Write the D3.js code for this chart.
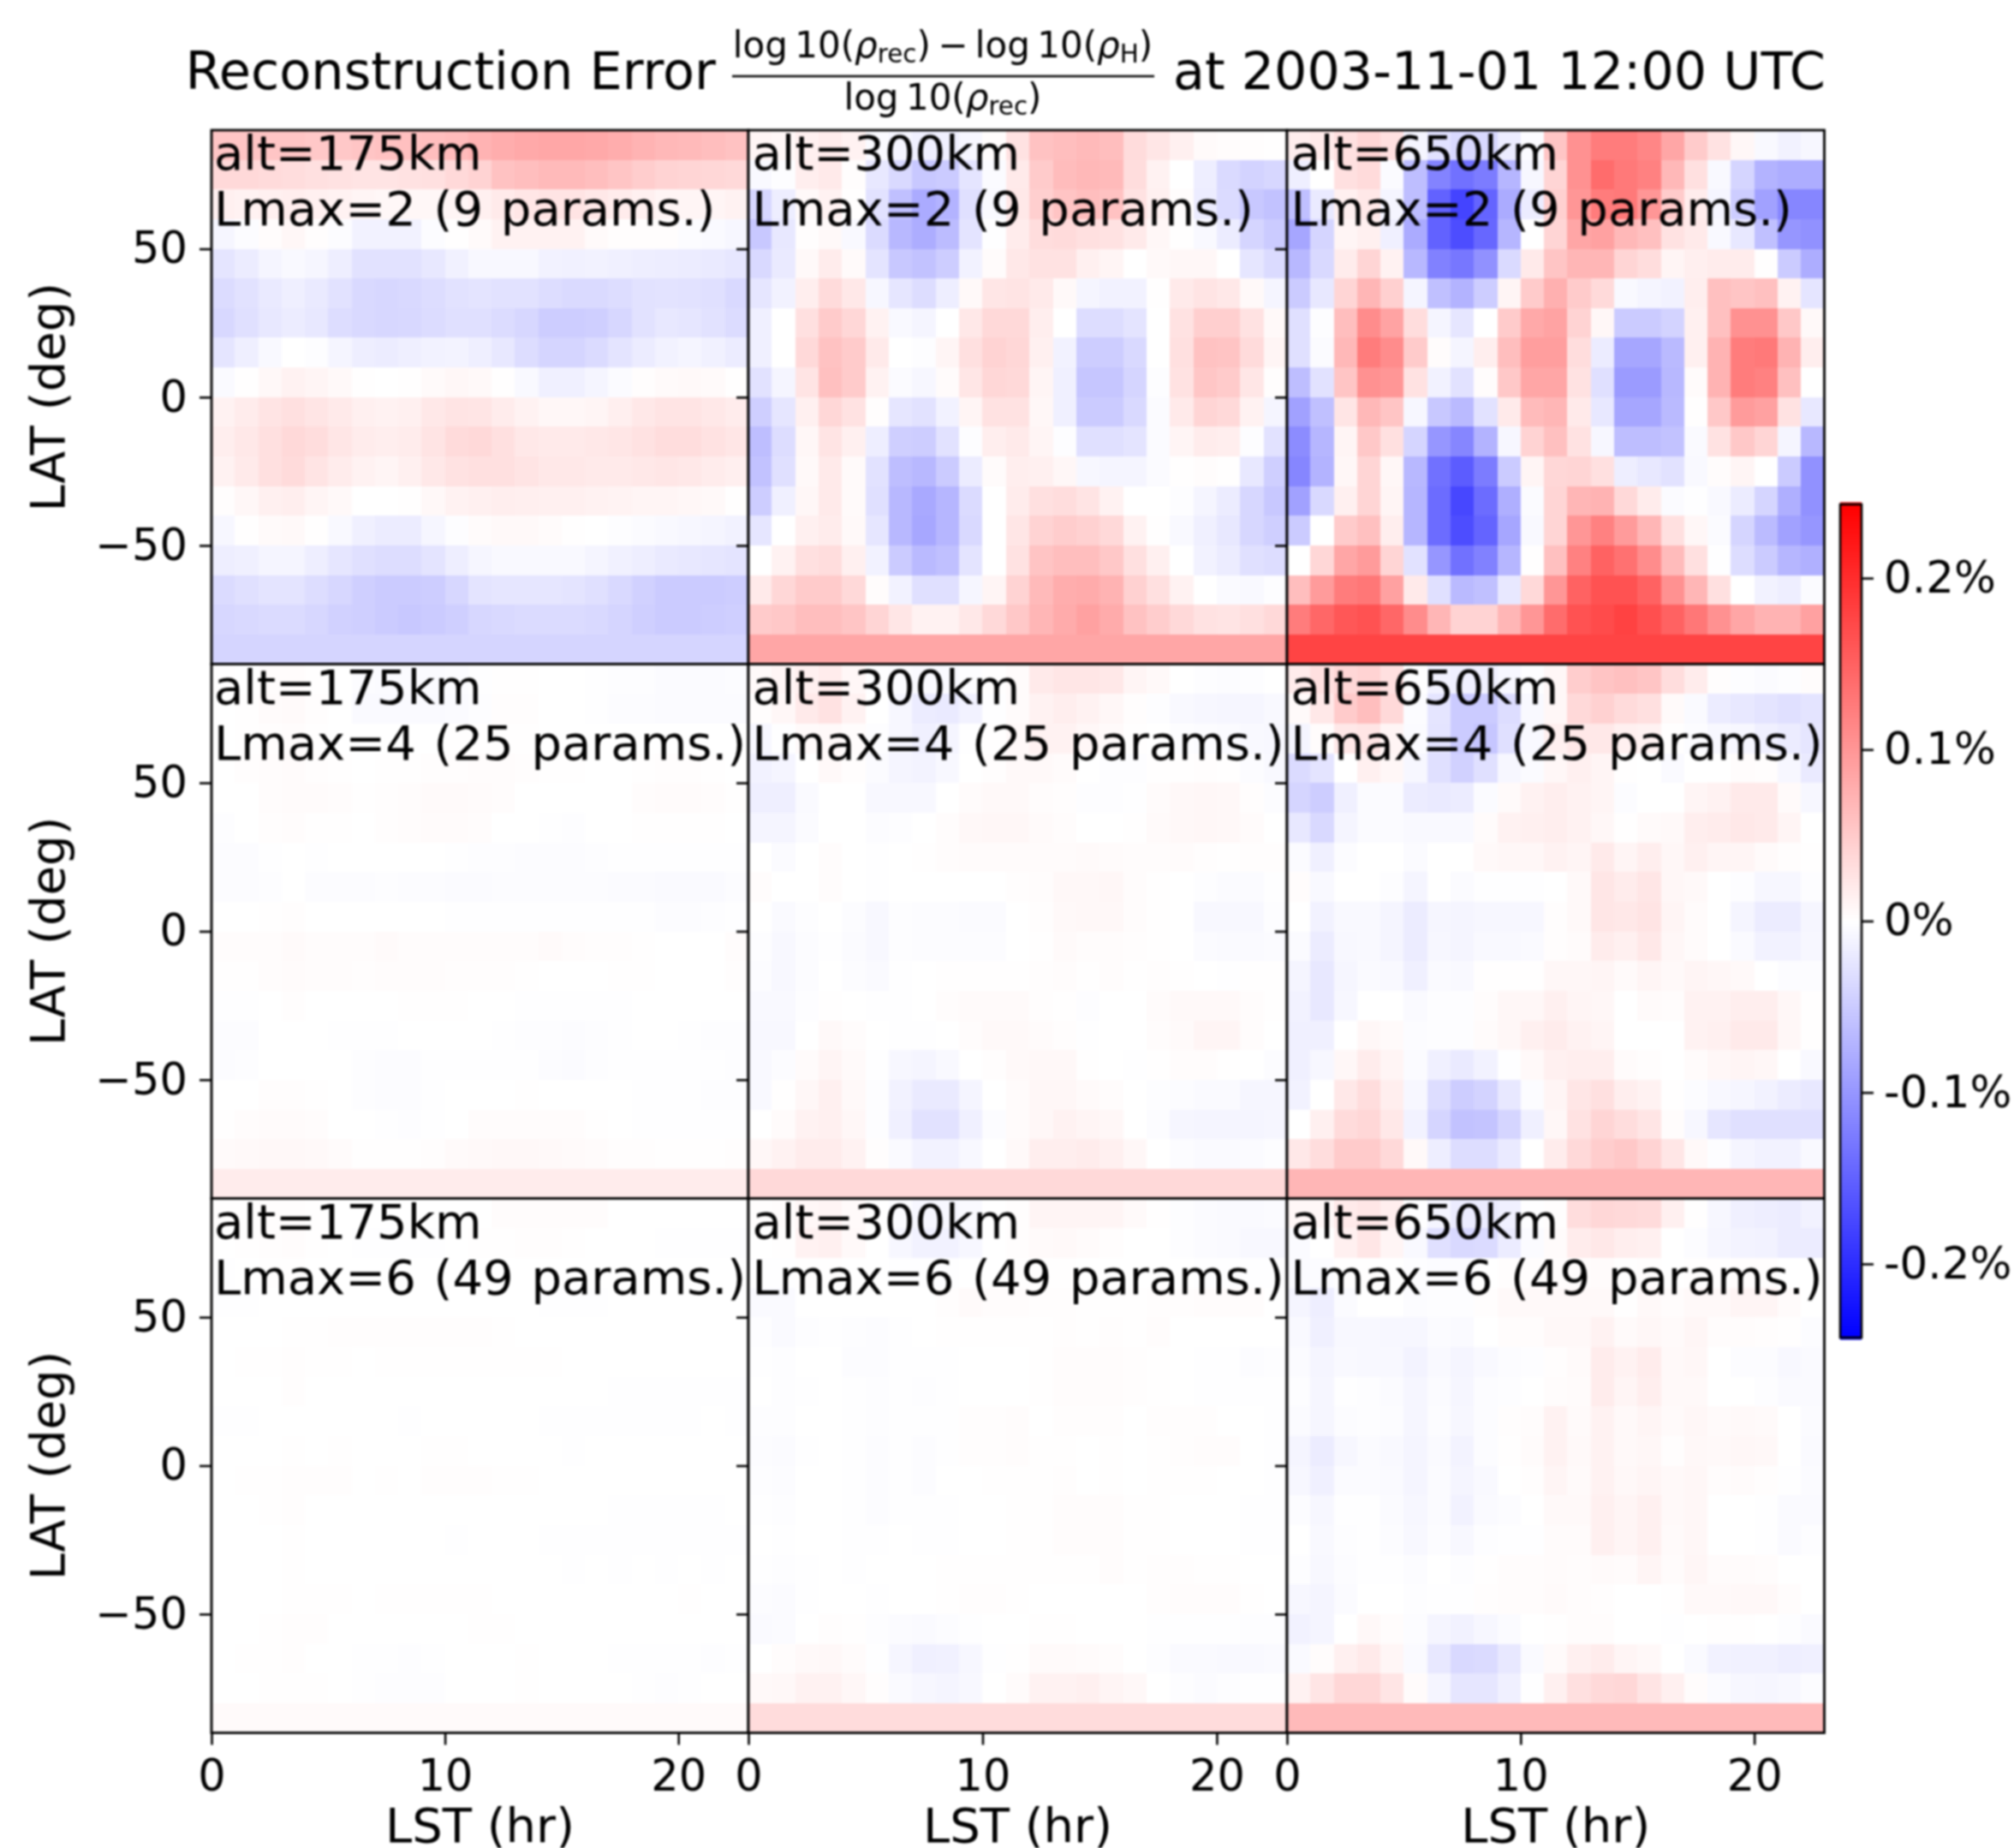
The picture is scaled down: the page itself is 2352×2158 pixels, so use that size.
<!DOCTYPE html>
<html>
<head>
<meta charset="utf-8">
<script src="https://cdn.jsdelivr.net/npm/d3@7"></script>
<style>
  body { margin: 0; background: #fff; }
  svg { display: block; font-family: "DejaVu Sans"; filter: blur(1px); }
</style>
</head>
<body>
<script>
// reconstruction error, unit is 0.001 %
// each row is one 10 deg latitude band, north first, 23 LST columns
const err175L2 = [
  [55,55,55,55,52,52,55,58,60,62,65,72,78,82,84,84,82,78,72,68,66,62,58],
  [36,36,34,32,30,28,26,26,28,30,36,42,58,62,66,66,62,55,48,42,40,38,36],
  [14,12,14,16,14,12,10,8,8,8,10,14,20,24,26,26,22,18,14,10,10,10,12],
  [-9,-3,3,8,2,-3,-12,-12,-12,-3,1,5,12,12,12,12,5,2,2,2,-3,-5,-8],
  [-25,-18,-10,-6,-9,-16,-28,-28,-28,-22,-13,-7,-7,-7,-12,-13,-12,-14,-16,-17,-18,-20,-23],
  [-33,-28,-20,-15,-20,-28,-36,-38,-36,-32,-28,-26,-28,-28,-32,-35,-35,-32,-28,-27,-28,-30,-36],
  [-37,-30,-22,-18,-22,-32,-36,-38,-37,-33,-30,-30,-33,-38,-48,-48,-46,-38,-28,-22,-24,-28,-33],
  [-25,-15,-6,0,-2,-10,-16,-18,-15,-12,-11,-15,-22,-32,-40,-40,-34,-26,-18,-12,-10,-13,-18],
  [-5,1,7,12,10,6,1,0,1,5,8,6,1,-6,-14,-14,-10,-4,2,5,6,5,1],
  [12,18,26,30,25,20,14,12,14,22,26,25,18,12,8,8,10,15,22,26,26,22,18],
  [16,22,30,36,32,24,18,16,18,26,34,36,30,22,20,20,22,24,28,32,32,28,24],
  [12,20,30,34,26,18,12,10,14,22,28,30,30,26,22,22,20,20,22,24,22,18,15],
  [2,8,14,16,10,6,0,0,1,7,12,14,16,15,14,14,12,11,10,10,8,6,1],
  [-8,1,5,6,1,-6,-14,-18,-18,-9,-2,4,6,6,4,1,0,-2,-4,-6,-8,-10,-12],
  [-16,-14,-10,-10,-16,-24,-30,-32,-32,-26,-16,-9,-6,-6,-6,-6,-10,-13,-16,-20,-22,-24,-26],
  [-34,-30,-26,-26,-32,-38,-46,-50,-50,-48,-38,-26,-24,-24,-24,-26,-30,-36,-44,-50,-50,-50,-48],
  [-38,-36,-34,-34,-38,-44,-46,-50,-52,-50,-46,-38,-36,-34,-34,-34,-36,-40,-46,-50,-50,-48,-46],
  [-40,-40,-40,-40,-40,-40,-40,-40,-40,-40,-40,-40,-40,-40,-40,-40,-40,-40,-40,-40,-40,-40,-40]
];
const err300L2 = [
  [10,8,14,18,12,-5,-10,-14,-14,-8,3,28,58,62,66,62,33,24,14,5,3,2,1],
  [-6,-2,16,20,2,-22,-36,-52,-50,-25,-4,20,50,64,68,66,32,12,0,-16,-35,-42,-38],
  [-38,-16,6,12,1,-28,-60,-80,-72,-30,-6,22,46,56,62,58,28,14,3,-18,-34,-52,-58],
  [-52,-22,2,6,-6,-34,-68,-78,-64,-26,-1,18,32,34,30,28,20,8,1,-6,-18,-40,-50],
  [-36,-20,6,18,5,-26,-52,-58,-48,-12,4,22,28,28,14,10,0,6,8,8,0,-24,-34],
  [-24,-12,16,34,22,-8,-24,-32,-16,6,24,26,20,6,-10,-12,-12,1,20,26,22,6,-10],
  [-14,0,30,50,38,12,-6,-10,0,22,36,36,16,0,-32,-32,-26,0,28,46,46,28,6],
  [-14,0,36,58,50,20,0,-2,10,30,42,38,14,-12,-48,-48,-36,0,30,58,56,34,10],
  [-28,-10,26,60,50,12,-4,-8,4,24,38,36,10,-14,-54,-54,-40,-2,28,54,50,24,2],
  [-46,-24,14,38,28,2,-24,-28,-12,10,28,28,8,-14,-50,-50,-36,-4,20,40,36,12,-10],
  [-62,-32,8,26,14,-16,-46,-48,-28,-2,16,20,10,-2,-30,-30,-26,-4,10,18,16,-2,-28],
  [-58,-30,6,20,5,-28,-62,-68,-50,-18,4,16,14,8,-8,-10,-10,-4,1,3,1,-22,-46],
  [-48,-14,8,20,5,-30,-68,-82,-70,-34,0,18,30,32,26,12,0,0,-2,-10,-18,-38,-52],
  [-24,0,14,18,6,-24,-68,-84,-70,-36,0,24,42,48,44,36,12,1,-6,-14,-22,-38,-46],
  [0,12,30,32,14,-12,-50,-66,-60,-26,0,28,56,62,62,52,30,14,0,-12,-18,-30,-32],
  [20,38,50,50,36,3,-12,-30,-30,-9,10,42,66,78,80,72,44,30,12,0,-5,-6,-2],
  [50,52,62,62,55,40,24,12,12,22,36,52,70,80,90,80,58,48,36,28,26,30,36],
  [85,85,85,85,85,85,85,85,85,85,85,85,85,85,85,85,85,85,85,85,85,85,85]
];
const err650L2 = [
  [16,20,30,40,30,-10,-28,-36,-36,-18,-4,55,105,125,125,115,85,50,28,8,-6,-12,-8],
  [-15,0,30,34,-4,-62,-118,-135,-125,-70,-8,40,105,140,128,120,68,30,-6,-40,-72,-78,-78],
  [-60,-20,14,22,-10,-62,-150,-178,-148,-80,-18,45,100,125,128,100,50,18,-10,-48,-90,-115,-115],
  [-85,-40,10,14,-14,-80,-150,-170,-145,-70,0,40,85,90,68,60,28,20,-6,-22,-60,-100,-105],
  [-68,-36,18,40,12,-68,-120,-130,-105,-35,20,55,70,70,40,32,10,15,18,18,1,-50,-78],
  [-50,-22,40,70,45,-10,-60,-72,-48,10,50,75,50,35,-6,-10,-12,16,60,55,60,12,-25],
  [-30,-2,62,110,88,32,-10,-24,0,50,82,88,42,8,-50,-50,-42,14,60,105,105,52,6],
  [-30,-4,68,125,110,50,3,-10,16,62,92,92,32,-18,-85,-85,-66,14,72,125,128,72,16],
  [-62,-28,55,105,100,28,-12,-28,3,52,85,85,28,-30,-95,-95,-68,4,72,125,120,60,0],
  [-90,-60,25,68,55,-8,-52,-66,-28,20,65,70,20,-22,-85,-85,-66,1,52,95,90,28,-22],
  [-110,-70,10,52,30,-40,-100,-115,-72,-8,42,60,28,-8,-62,-62,-58,-5,28,52,40,-10,-68],
  [-115,-72,8,40,8,-68,-135,-155,-125,-50,10,38,40,30,-16,-22,-28,-6,3,10,0,-50,-105],
  [-90,-36,14,40,10,-70,-140,-175,-140,-76,-4,40,70,72,36,18,-4,-1,-6,-18,-40,-76,-105],
  [-50,0,50,60,16,-70,-140,-170,-148,-85,-6,40,100,120,95,70,30,8,-4,-40,-65,-90,-100],
  [0,38,85,95,40,-28,-100,-135,-120,-70,1,60,120,150,135,110,65,30,-1,-32,-50,-70,-75],
  [62,95,125,130,90,20,-30,-66,-60,-22,36,100,150,165,165,150,105,70,30,0,-12,-16,-4],
  [125,145,160,165,145,110,70,42,42,70,100,140,165,172,180,168,150,130,105,85,72,72,90],
  [178,178,178,178,178,178,178,178,178,178,178,178,178,178,178,178,178,178,178,178,178,178,178]
];
const err175L4 = [
  [1,0,3,3,1,0,-3,-4,-4,-4,-3,-1,1,1,0,0,-1,-2,-2,-4,-4,-4,-3],
  [0,1,4,5,2,0,-5,-5,-5,-5,-4,-2,2,2,0,0,-1,-3,-3,-4,-4,-4,-4],
  [0,1,2,3,1,0,0,0,0,0,1,1,1,1,0,0,0,0,0,0,0,0,0],
  [0,2,3,4,2,1,0,1,1,2,2,3,3,2,1,1,0,0,1,2,2,1,0],
  [0,0,3,4,4,3,1,2,3,5,5,4,3,0,0,0,0,0,3,4,4,3,1],
  [-2,0,2,3,1,1,0,2,3,4,4,3,0,0,-1,-2,0,0,1,1,1,1,0],
  [-3,-3,-1,0,-1,0,0,0,0,0,-1,-2,-2,-3,-3,-3,-2,-1,-1,-1,-1,-1,-1],
  [-3,-3,-2,0,-3,-3,-3,-2,-3,-3,-4,-4,-3,-3,-3,-3,-3,-4,-4,-5,-5,-5,-3],
  [0,0,1,2,0,0,0,0,0,0,-1,-1,-1,-1,-1,-1,-1,-1,-1,-3,-3,-2,-1],
  [3,3,3,5,3,3,3,5,3,3,3,3,3,3,5,3,2,2,1,0,0,0,3],
  [1,1,3,4,3,3,2,3,3,3,2,2,2,1,0,0,0,1,1,0,0,0,2],
  [-1,-1,0,2,0,0,0,0,1,1,1,0,0,-1,-1,-1,-1,-1,0,0,0,0,0],
  [-3,-3,0,0,0,-1,-1,-1,0,0,0,0,-1,-2,-2,-3,-2,-1,0,0,-1,-2,-2],
  [-3,-2,0,0,0,0,-2,-3,-3,-1,-1,-1,-1,-1,-3,-4,-2,-1,-1,-1,-1,-1,-2],
  [0,0,2,2,1,0,-2,-3,-3,-1,0,0,0,1,0,0,0,0,-1,-1,-1,-2,-2],
  [1,3,4,4,3,0,0,-1,-2,-1,0,3,3,3,3,3,1,0,-1,-1,-1,-1,-1],
  [5,6,7,7,6,4,1,1,1,2,5,6,7,7,6,5,4,2,2,1,1,1,2],
  [18,18,18,18,18,18,18,18,18,18,18,18,18,18,18,18,18,18,18,18,18,18,18]
];
const err300L4 = [
  [6,10,14,18,8,-1,-3,-5,-5,-2,1,4,20,24,24,22,10,6,0,-2,-3,-2,0],
  [2,8,20,28,12,0,-8,-18,-20,-12,-1,4,12,16,12,8,2,-2,-6,-8,-9,-9,-6],
  [-8,-1,5,6,3,-2,-8,-14,-10,-1,1,6,12,12,8,5,1,0,-2,-3,-4,-6,-7],
  [-12,-10,0,6,2,-4,-10,-11,-7,0,2,6,6,4,0,-2,-2,1,1,2,1,-3,-6],
  [-15,-15,-5,0,0,-7,-7,-7,0,4,6,6,3,2,-2,-2,-1,4,7,8,7,2,-3],
  [-10,-10,-4,0,0,-3,-2,0,3,7,8,8,5,3,0,0,1,5,7,8,7,4,0],
  [0,-4,0,3,0,-1,0,1,3,4,4,4,4,4,5,4,3,3,4,2,1,2,2],
  [3,0,0,3,0,-1,0,0,0,0,0,2,3,7,7,8,3,1,0,-2,-4,-4,-1],
  [0,-5,-2,0,-3,-7,-2,-3,-3,-4,-4,0,2,6,7,7,3,1,0,-7,-7,-7,-2],
  [-2,-7,-3,-1,-4,-7,-2,-3,-3,-3,-3,0,1,5,3,3,2,1,0,-4,-5,-5,-4],
  [-3,-7,-3,0,-3,-5,-1,0,1,1,1,1,2,3,1,3,1,2,1,0,-1,1,1],
  [-6,-6,-2,1,0,-1,-1,0,3,5,5,5,2,1,-2,0,0,4,6,6,6,3,1],
  [-7,-7,0,6,3,0,-1,-1,0,3,6,6,4,2,-1,0,0,3,5,10,10,3,0],
  [-6,-3,4,10,5,-1,-8,-10,-6,0,2,6,7,7,1,0,-1,1,3,3,1,0,-3],
  [-6,1,8,14,6,-2,-12,-20,-20,-10,0,4,8,8,5,3,0,-2,-3,-5,-5,-9,-9],
  [0,4,12,14,8,-2,-14,-28,-28,-14,-3,4,8,12,10,8,0,-3,-9,-10,-10,-10,-9],
  [8,12,18,18,12,2,-5,-12,-12,-7,0,6,16,16,18,14,8,0,-3,-5,-5,-4,-2],
  [36,36,36,36,36,36,36,36,36,36,36,36,36,36,36,36,36,36,36,36,36,36,36]
];
const err650L4 = [
  [18,30,38,42,30,-1,-12,-14,-14,-8,-2,8,48,56,60,55,32,18,2,-2,-4,-2,3],
  [5,22,50,62,36,-3,-25,-50,-50,-32,-6,8,36,44,34,30,5,-5,-18,-22,-26,-30,-26],
  [-10,3,22,25,10,-4,-26,-50,-54,-30,-6,14,22,22,14,12,1,-3,-7,-8,-14,-18,-24],
  [-34,-26,0,14,8,-8,-30,-44,-30,-8,-4,8,14,10,1,0,-5,0,0,3,2,-8,-20],
  [-40,-48,-14,-4,-4,-18,-20,-18,-4,5,12,16,12,10,-3,0,0,10,12,20,20,5,-8],
  [-22,-36,-10,-4,-4,-6,-6,-6,4,12,14,16,12,8,1,5,6,16,18,22,20,10,0],
  [-4,-14,-3,0,0,-4,0,0,6,8,8,12,10,20,10,16,8,14,10,10,5,2,1],
  [3,-6,0,0,-2,-10,0,-4,-1,-1,-1,0,6,24,18,24,8,6,0,-2,-8,-8,-2],
  [0,-12,-6,-6,-10,-18,-9,-10,-8,-8,-8,2,6,24,22,26,10,4,0,-10,-18,-18,-9],
  [-4,-18,-7,-6,-10,-18,-8,-10,-6,-6,-5,2,4,18,14,22,8,4,0,-5,-12,-12,-8],
  [-10,-22,-9,-5,-6,-14,-5,-6,1,1,1,8,8,10,5,10,6,10,8,6,0,-3,-3],
  [-12,-22,-8,0,0,-5,-2,-2,3,8,8,14,10,8,0,5,3,12,12,16,16,8,1],
  [-14,-14,0,8,5,-3,-2,-2,4,8,14,18,12,10,0,0,0,12,14,20,20,8,1],
  [-14,-8,8,18,10,-4,-14,-20,-12,-1,6,14,16,16,4,2,0,4,8,10,8,0,-6],
  [-12,0,22,32,16,-8,-32,-48,-42,-22,-3,10,24,30,16,12,1,-3,-7,-9,-12,-18,-22],
  [0,14,34,38,22,-12,-40,-58,-56,-40,-14,8,28,40,32,25,3,-8,-24,-30,-30,-30,-30],
  [22,32,50,50,36,6,-16,-32,-32,-20,0,18,36,48,52,42,24,6,-2,-10,-12,-12,-6],
  [70,70,70,70,70,70,70,70,70,70,70,70,70,70,70,70,70,70,70,70,70,70,70]
];
const err175L6 = [
  [1,1,2,2,1,0,0,0,0,0,0,0,3,3,3,3,3,0,0,0,0,0,0],
  [0,1,2,3,1,0,-1,-1,-1,-1,0,1,1,2,2,1,0,0,0,-1,-1,-1,-1],
  [-1,0,1,1,0,0,0,0,0,0,0,0,0,0,0,0,0,0,0,0,0,0,0],
  [-1,-1,0,0,0,0,0,0,0,0,0,0,0,0,-1,-1,-1,0,0,0,0,0,0],
  [0,0,0,1,1,2,2,2,2,2,2,2,1,0,0,0,0,0,0,0,0,0,0],
  [0,1,1,2,1,1,0,1,1,1,1,1,1,1,1,0,0,0,0,0,0,0,0],
  [0,0,0,2,0,0,0,0,0,0,0,0,0,0,0,0,0,-1,-1,-1,-1,-1,-1],
  [-1,-1,0,0,0,0,0,0,-1,0,0,0,0,0,-1,-1,-1,-1,-1,-1,-1,0,-1],
  [0,0,0,1,0,1,0,0,0,1,1,0,0,0,0,-1,0,0,0,0,0,0,0],
  [0,1,1,2,2,2,0,1,0,2,2,2,1,1,0,0,0,0,0,0,0,0,0],
  [0,0,1,2,0,0,0,0,0,0,0,0,0,0,0,0,0,-1,-1,-1,-1,-1,0],
  [0,0,0,1,0,0,0,0,0,0,-1,0,0,0,-1,-1,-1,-1,-1,-1,-1,-1,-1],
  [0,0,0,1,0,0,0,0,0,0,0,0,0,0,0,-1,0,-1,0,-1,0,-1,0],
  [0,0,0,1,1,1,0,1,1,1,1,1,0,0,0,0,0,0,0,0,1,0,0],
  [0,0,1,2,2,0,0,0,0,0,0,1,1,0,0,0,0,0,0,0,0,0,0],
  [0,1,1,2,0,0,-1,-1,-2,-1,0,0,0,1,0,0,0,-1,-1,-1,-1,-2,-1],
  [0,0,1,1,1,0,-1,-2,-2,-2,0,0,0,1,0,0,0,0,-1,-2,-1,0,0],
  [5,5,5,5,5,5,5,5,5,5,5,5,5,5,5,5,5,5,5,5,5,5,5]
];
const err300L6 = [
  [2,3,8,10,5,0,-3,-8,-8,-5,0,2,10,10,10,10,5,1,-2,-4,-5,-5,-4],
  [0,1,12,14,6,0,-8,-12,-12,-8,0,2,5,6,4,2,0,0,-2,-4,-5,-7,-7],
  [-1,-1,1,1,0,0,-1,-1,-1,0,0,1,1,1,0,0,0,0,0,-1,-1,-1,-1],
  [-5,-5,0,0,0,0,0,0,2,5,3,3,2,2,1,1,1,2,2,3,3,3,0],
  [-2,-5,-2,-1,-2,-3,-1,0,1,1,1,1,1,2,1,2,1,3,0,0,0,0,0],
  [-1,-2,0,0,-3,-3,-1,-1,-1,0,0,0,1,3,3,3,2,1,0,-1,-1,-3,-2],
  [0,-2,-1,0,-1,-2,-1,-2,-1,0,0,0,1,3,3,3,2,1,0,-1,-1,-1,-1],
  [-2,-2,0,0,-1,-2,-1,-1,-1,2,2,3,0,2,2,2,0,2,2,2,0,0,-1],
  [-3,-4,-1,0,-1,-3,-1,-3,-1,2,2,3,1,1,0,1,0,1,2,3,3,0,-1],
  [-2,-3,0,0,-1,-3,-1,-3,0,0,1,1,1,2,0,1,0,1,1,1,0,0,-1],
  [-1,-2,0,0,-1,-3,-1,-1,-1,0,0,1,1,3,3,3,1,1,0,0,0,-1,-1],
  [0,-1,0,0,-1,-1,0,-1,-1,0,0,1,1,3,3,3,1,1,0,0,0,-1,-1],
  [-1,-2,-1,0,-1,0,0,0,1,1,1,1,1,1,1,3,1,2,2,1,1,0,0],
  [-3,-4,-1,0,0,-1,0,0,1,2,2,1,0,0,0,0,0,2,3,3,3,1,0],
  [-5,-4,0,2,1,-2,-4,-5,-3,-1,0,0,1,1,0,0,0,-1,-1,-1,-1,-2,-2],
  [0,3,6,7,4,-1,-9,-14,-13,-8,-1,1,5,5,4,3,0,-2,-5,-5,-6,-6,-5],
  [6,7,12,12,8,2,-5,-8,-10,-7,0,4,12,12,14,10,7,0,-2,-4,-2,-1,-1],
  [33,33,33,33,33,33,33,33,33,33,33,33,33,33,33,33,33,33,33,33,33,33,33]
];
const err650L6 = [
  [8,8,20,24,16,-1,-10,-18,-18,-14,-1,2,32,38,36,34,14,1,-8,-14,-16,-18,-12],
  [-4,0,14,24,10,-6,-30,-36,-34,-18,-4,4,18,22,16,14,0,-3,-9,-11,-12,-18,-18],
  [-4,-3,1,1,0,-2,-3,-3,0,2,2,3,3,4,1,2,0,1,1,2,2,0,0],
  [-10,-16,-4,0,0,-3,-2,-2,2,6,6,6,6,6,1,6,3,6,6,10,10,4,0],
  [-6,-14,-7,-7,-8,-8,-4,-5,0,3,3,7,7,12,5,8,5,9,3,3,2,1,-3],
  [-4,-10,-6,-7,-7,-11,-6,-10,-6,-3,-2,2,5,18,12,18,6,8,0,-3,-3,-7,-5],
  [-2,-9,-1,-2,-4,-9,-4,-9,-3,-2,0,3,4,18,10,16,6,6,0,0,-2,-5,-5],
  [-4,-9,-3,-2,-3,-9,-3,-8,-3,2,3,12,5,12,6,10,5,8,5,6,5,0,-4],
  [-10,-18,-8,-4,-6,-10,-5,-11,-3,1,4,12,6,12,6,8,2,7,6,8,7,0,-5],
  [-8,-14,-4,-4,-5,-10,-4,-10,-6,0,2,10,5,12,7,10,6,8,3,4,2,-1,-4],
  [-3,-8,-1,-1,-4,-8,-4,-12,-5,-3,0,6,6,14,10,14,6,8,0,0,-1,-5,-5],
  [0,-6,-2,-1,-3,-7,-3,-7,-2,-1,-1,4,4,14,10,14,5,8,0,0,-1,-5,-2],
  [-2,-7,-3,-1,-1,-3,0,-2,1,3,3,4,3,5,4,10,4,9,4,4,3,0,0],
  [-8,-10,-4,0,0,-2,-1,-1,2,3,3,5,3,2,0,0,1,6,6,7,7,3,0],
  [-12,-10,0,7,3,-3,-10,-12,-8,-4,0,1,3,3,0,0,-1,0,1,1,0,-2,-5],
  [-5,3,14,20,9,-5,-22,-36,-34,-22,-5,5,14,18,10,7,0,-5,-12,-13,-13,-16,-14],
  [12,25,38,38,25,4,-10,-24,-24,-14,-1,14,30,36,38,26,14,3,-4,-8,-9,-7,-3],
  [66,66,66,66,66,66,66,66,66,66,66,66,66,66,66,66,66,66,66,66,66,66,66]
];

const altitudes = [175, 300, 650];
const lmaxes = [2, 4, 6];
const paramCounts = [9, 25, 49];
const gridRows = [
  [err175L2, err300L2, err650L2],
  [err175L4, err300L4, err650L4],
  [err175L6, err300L6, err650L6]
];
const lstTicks = [0, 10, 20];
const latTicks = [50, 0, -50];
const colorbarTicks = [0.2, 0.1, 0, -0.1, -0.2];
const maxError = 0.243; // percent, colour limit

const width = 2352;
const height = 2158;
const colEdges = [247, 874, 1503, 2130.5];
const rowEdges = [152, 775.5, 1399.5, 2023.5];

const svg = d3.select("body").append("svg")
    .attr("width", width)
    .attr("height", height)
    .attr("viewBox", [0, 0, width, height]);

const color = d3.scaleLinear()
    .domain([-maxError, 0, maxError])
    .range(["#0000ff", "#ffffff", "#ff0000"]);

function drawPanel(values, row, col) {
  const x = d3.scaleLinear().domain([0, 23]).range([colEdges[col], colEdges[col + 1]]);
  const y = d3.scaleLinear().domain([-90, 90]).range([rowEdges[row + 1], rowEdges[row]]);
  const g = svg.append("g");

  const cells = values.flatMap((lons, r) => lons.map((v, c) => ({ lst: c, lat: 90 - 10 * r, v: v / 1000 })));
  g.selectAll("rect")
    .data(cells)
    .join("rect")
      .attr("x", d => x(d.lst))
      .attr("y", d => y(d.lat))
      .attr("width", d => x(d.lst + 1) - x(d.lst))
      .attr("height", d => y(d.lat - 10) - y(d.lat))
      .attr("fill", d => color(d.v))
      .attr("shape-rendering", "crispEdges");

  const textX = colEdges[col] + (col == 0 ? 3 : 4.5);
  g.append("text")
      .attr("x", textX)
      .attr("y", rowEdges[row] + 46)
      .attr("font-size", 56)
      .text("alt=" + altitudes[col] + "km");
  g.append("text")
      .attr("x", textX)
      .attr("y", rowEdges[row] + 111)
      .attr("font-size", 56)
      .attr("word-spacing", 3)
      .text("Lmax=" + lmaxes[row] + " (" + paramCounts[row] + " params.)");

  // left ticks are on every panel, they stick out over the neighbour
  const yAxis = g.append("g")
      .attr("transform", `translate(${colEdges[col]},0)`)
      .call(d3.axisLeft(y).tickValues(latTicks).tickSize(14).tickPadding(14)
        .tickFormat(col == 0 ? d3.format("d") : ""));
  yAxis.select(".domain").remove();
  yAxis.selectAll("line").attr("stroke-width", 2.6);
  yAxis.selectAll("text").attr("font-size", 51).attr("font-family", "DejaVu Sans");

  if (row == 2) {
    const xAxis = g.append("g")
        .attr("transform", `translate(0,${rowEdges[3]})`)
        .call(d3.axisBottom(x).tickValues(lstTicks).tickSize(14).tickPadding(17));
    xAxis.select(".domain").remove();
    xAxis.selectAll("line").attr("stroke-width", 2.6);
    xAxis.selectAll("text").attr("font-size", 51).attr("font-family", "DejaVu Sans");

    g.append("text")
        .attr("x", (colEdges[col] + colEdges[col + 1]) / 2)
        .attr("y", 2151)
        .attr("text-anchor", "middle")
        .attr("font-size", 56)
        .text("LST (hr)");
  }

  if (col == 0) {
    g.append("text")
        .attr("transform", `translate(75,${(rowEdges[row] + rowEdges[row + 1]) / 2}) rotate(-90)`)
        .attr("text-anchor", "middle")
        .attr("font-size", 56)
        .text("LAT (deg)");
  }

  g.append("rect")
      .attr("x", colEdges[col])
      .attr("y", rowEdges[row])
      .attr("width", colEdges[col + 1] - colEdges[col])
      .attr("height", rowEdges[row + 1] - rowEdges[row])
      .attr("fill", "none")
      .attr("stroke", "#000")
      .attr("stroke-width", 2.8);
}

gridRows.forEach((panels, row) => panels.forEach((values, col) => drawPanel(values, row, col)));

// colorbar
const barLeft = 2149;
const barRight = 2174;
const barScale = d3.scaleLinear().domain([-maxError, maxError]).range([1562, 589]);
const barSteps = d3.range(256).map(i => -maxError + (2 * maxError * i) / 255);
svg.append("g").selectAll("rect")
  .data(barSteps)
  .join("rect")
    .attr("x", barLeft)
    .attr("y", d => barScale(d) - 2.5)
    .attr("width", barRight - barLeft)
    .attr("height", 5)
    .attr("fill", d => color(d));
svg.append("rect")
    .attr("x", barLeft)
    .attr("y", barScale.range()[1])
    .attr("width", barRight - barLeft)
    .attr("height", barScale.range()[0] - barScale.range()[1])
    .attr("fill", "none")
    .attr("stroke", "#000")
    .attr("stroke-width", 2.6);
const barAxis = svg.append("g")
    .attr("transform", `translate(${barRight},0)`)
    .call(d3.axisRight(barScale).tickValues(colorbarTicks).tickSize(14).tickPadding(12)
      .tickFormat(d => d + "%"));
barAxis.select(".domain").remove();
barAxis.selectAll("line").attr("stroke-width", 2.6);
barAxis.selectAll("text").attr("font-size", 51.5).attr("font-family", "DejaVu Sans");

// title with the mathtext fraction, pieces are [text, italic, subscript]
const numerator = [["log", 0, 0], ["\u2009", 0, 0], ["10(", 0, 0], ["\u03c1", 1, 0], ["rec", 0, 1], [")", 0, 0],
  ["\u2009\u2212\u2009", 0, 0], ["log", 0, 0], ["\u2009", 0, 0], ["10(", 0, 0], ["\u03c1", 1, 0], ["H", 0, 1], [")", 0, 0]];
const denominator = [["log", 0, 0], ["\u2009", 0, 0], ["10(", 0, 0], ["\u03c1", 1, 0], ["rec", 0, 1], [")", 0, 0]];

function drawMath(pieces, y) {
  const t = svg.append("text")
      .attr("x", 1101)
      .attr("y", y)
      .attr("text-anchor", "middle")
      .attr("font-size", 42)
      .style("white-space", "pre");
  let wasSub = false;
  pieces.forEach(p => {
    const span = t.append("tspan").text(p[0]);
    if (p[1]) span.attr("font-style", "italic");
    if (p[2]) span.attr("font-size", 29.4).attr("dy", 6);
    else if (wasSub) span.attr("dy", -6);
    wasSub = !!p[2];
  });
}

svg.append("text")
    .attr("x", 216.5)
    .attr("y", 104)
    .attr("font-size", 60.5)
    .text("Reconstruction Error");
drawMath(numerator, 67);
drawMath(denominator, 128);
svg.append("line")
    .attr("x1", 855)
    .attr("x2", 1348)
    .attr("y1", 89)
    .attr("y2", 89)
    .attr("stroke", "#000")
    .attr("stroke-width", 2.4);
svg.append("text")
    .attr("x", 1370)
    .attr("y", 104)
    .attr("font-size", 60.3)
    .text("at 2003-11-01 12:00 UTC");
</script>
</body>
</html>
